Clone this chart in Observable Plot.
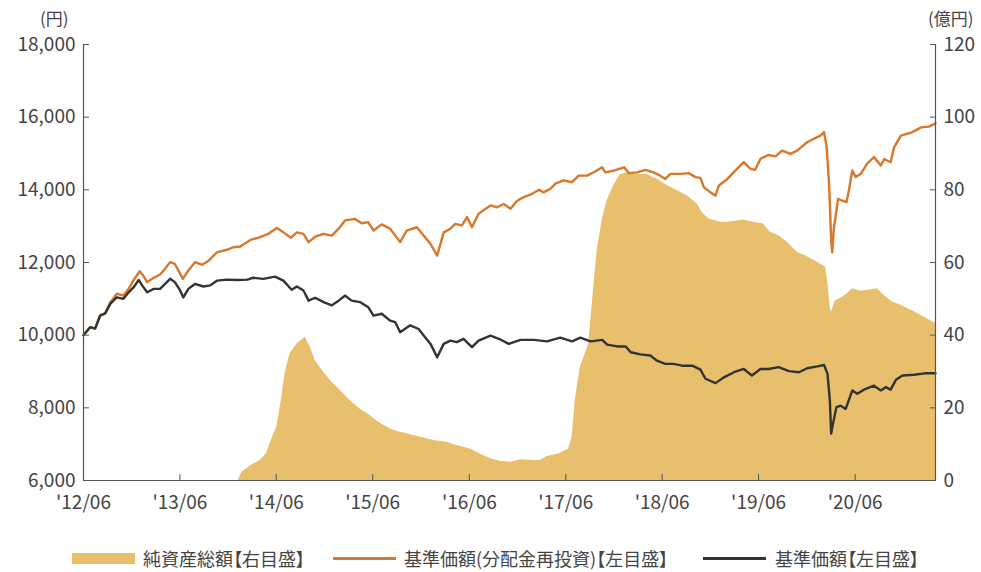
<!DOCTYPE html>
<html>
<head>
<meta charset="utf-8">
<script src="https://cdn.jsdelivr.net/npm/d3@7"></script>
<script src="https://cdn.jsdelivr.net/npm/@observablehq/plot@0.6"></script>
<style>
  body { margin: 0; background: #fff; }
  #wrap { position: relative; width: 981px; height: 572px; font-family: "Noto Sans CJK JP", "Noto Sans", sans-serif; color: #444; font-feature-settings: "palt"; }
  .unit { position: absolute; font-size: 17px; line-height: 20px; top: 8px; }
  .leg { position: absolute; top: 546px; height: 24px; font-size: 18px; line-height: 24px; white-space: nowrap; }
  .sw { position: absolute; }
</style>
</head>
<body>
<div id="wrap"></div>
<script>
// ---- data ----
// 基準価額 (NAV, 円)
const navDates = ["2012-06-01","2012-06-26","2012-07-15","2012-08-03","2012-08-22","2012-09-11","2012-10-05","2012-10-30","2012-11-19","2012-12-08","2012-12-27","2013-01-09","2013-01-28","2013-02-22","2013-03-18","2013-04-06","2013-04-25","2013-05-13","2013-06-02","2013-06-14","2013-07-03","2013-07-28","2013-08-29","2013-09-24","2013-10-19","2013-11-26","2014-01-04","2014-02-11","2014-03-06","2014-04-13","2014-05-27","2014-06-28","2014-07-29","2014-08-18","2014-09-12","2014-10-01","2014-10-26","2014-11-27","2014-12-28","2015-01-23","2015-02-17","2015-03-13","2015-04-14","2015-05-15","2015-06-04","2015-07-05","2015-08-06","2015-08-25","2015-09-13","2015-10-21","2015-11-22","2015-12-11","2016-01-06","2016-01-31","2016-02-25","2016-03-21","2016-04-15","2016-05-10","2016-06-11","2016-07-06","2016-08-20","2016-09-21","2016-10-28","2016-12-12","2017-02-01","2017-03-22","2017-05-11","2017-06-25","2017-07-26","2017-09-03","2017-10-17","2017-11-05","2017-12-13","2018-01-14","2018-02-02","2018-03-10","2018-04-17","2018-05-12","2018-06-13","2018-07-14","2018-08-16","2018-09-23","2018-10-24","2018-11-12","2018-12-20","2019-01-21","2019-02-28","2019-04-06","2019-05-07","2019-06-08","2019-07-09","2019-08-16","2019-09-24","2019-11-01","2019-12-02","2020-01-10","2020-02-04","2020-02-17","2020-02-26","2020-03-02","2020-03-10","2020-03-22","2020-04-07","2020-04-26","2020-05-21","2020-06-09","2020-07-04","2020-08-11","2020-09-06","2020-09-25","2020-10-13","2020-11-02","2020-11-27","2021-01-10","2021-02-18","2021-04-01"];
const navValues = [10000,10220,10180,10540,10600,10870,11040,11000,11180,11320,11520,11370,11180,11275,11275,11410,11550,11460,11230,11040,11275,11410,11340,11370,11500,11530,11520,11530,11580,11550,11610,11500,11250,11340,11230,10950,11030,10910,10820,10950,11090,10950,10910,10770,10540,10590,10400,10360,10080,10270,10170,9990,9760,9390,9760,9850,9810,9900,9670,9850,9990,9900,9760,9870,9870,9830,9930,9830,9930,9830,9870,9740,9690,9690,9530,9470,9440,9300,9210,9210,9160,9160,9050,8800,8680,8840,8980,9070,8890,9070,9070,9120,9010,8980,9090,9140,9180,8940,8200,7290,7600,8020,8060,7970,8480,8390,8500,8610,8480,8570,8500,8770,8890,8910,8950,8950];

// 基準価額(分配金再投資) (円)
const reinvDates = ["2012-06-01","2012-06-26","2012-07-15","2012-08-03","2012-08-22","2012-09-11","2012-10-05","2012-10-30","2012-11-19","2012-12-08","2012-12-31","2013-01-13","2013-01-28","2013-02-22","2013-03-18","2013-04-06","2013-04-25","2013-05-13","2013-05-30","2013-06-12","2013-07-03","2013-07-28","2013-08-23","2013-09-18","2013-10-19","2013-11-26","2013-12-21","2014-01-16","2014-02-23","2014-04-01","2014-05-02","2014-06-03","2014-06-28","2014-07-26","2014-08-18","2014-09-12","2014-10-01","2014-10-26","2014-11-27","2014-12-28","2015-01-23","2015-02-17","2015-03-26","2015-04-20","2015-05-15","2015-06-04","2015-07-05","2015-08-06","2015-09-13","2015-10-08","2015-11-15","2015-12-11","2016-01-06","2016-01-31","2016-02-25","2016-03-21","2016-04-09","2016-05-04","2016-05-23","2016-06-11","2016-07-06","2016-08-20","2016-09-15","2016-10-09","2016-11-04","2016-11-29","2016-12-24","2017-01-25","2017-02-20","2017-03-09","2017-04-04","2017-04-23","2017-05-24","2017-06-25","2017-07-20","2017-08-21","2017-09-22","2017-10-17","2017-10-29","2017-11-30","2018-01-08","2018-01-26","2018-02-27","2018-03-29","2018-04-29","2018-05-25","2018-06-13","2018-07-02","2018-08-09","2018-09-10","2018-10-05","2018-10-24","2018-11-06","2018-12-01","2018-12-20","2019-01-02","2019-02-03","2019-03-05","2019-04-06","2019-05-01","2019-05-19","2019-06-08","2019-07-09","2019-08-04","2019-08-29","2019-09-30","2019-10-25","2019-12-02","2020-01-03","2020-01-22","2020-02-04","2020-02-14","2020-02-23","2020-02-27","2020-03-02","2020-03-06","2020-03-12","2020-03-22","2020-03-28","2020-04-13","2020-04-29","2020-05-08","2020-05-21","2020-06-03","2020-06-22","2020-07-17","2020-08-11","2020-09-06","2020-09-19","2020-10-13","2020-10-26","2020-11-21","2021-01-01","2021-02-06","2021-03-07","2021-04-01"];
const reinvValues = [10000,10220,10180,10540,10600,10910,11140,11090,11275,11520,11760,11640,11460,11580,11670,11830,12010,11960,11730,11550,11780,12010,11940,12050,12280,12350,12420,12440,12620,12700,12790,12950,12830,12680,12830,12790,12560,12710,12790,12740,12930,13160,13200,13080,13110,12880,13050,12930,12560,12880,12970,12740,12510,12190,12830,12930,13060,13020,13250,12970,13340,13570,13520,13610,13480,13700,13800,13890,14000,13930,14030,14170,14260,14210,14390,14390,14510,14620,14480,14530,14620,14460,14480,14550,14480,14390,14300,14440,14440,14460,14350,14330,14070,13930,13840,14120,14300,14530,14760,14580,14550,14850,14960,14920,15080,14990,15080,15310,15430,15490,15590,15170,14170,13430,12600,12280,12930,13430,13750,13700,13660,13980,14530,14350,14440,14730,14900,14670,14850,14760,15170,15490,15580,15720,15740,15830];

// 純資産総額 (億円)
const assetDates = ["2012-06-01","2014-01-08","2014-01-22","2014-02-23","2014-04-01","2014-04-26","2014-05-08","2014-06-03","2014-06-22","2014-07-04","2014-07-23","2014-08-18","2014-09-19","2014-10-08","2014-10-26","2014-11-27","2014-12-28","2015-01-30","2015-03-07","2015-04-14","2015-05-22","2015-06-23","2015-08-06","2015-09-13","2015-11-03","2015-12-11","2016-01-18","2016-03-08","2016-04-15","2016-06-05","2016-07-12","2016-08-20","2016-09-27","2016-11-04","2016-12-12","2017-02-01","2017-02-26","2017-03-22","2017-05-05","2017-06-12","2017-06-25","2017-07-07","2017-07-26","2017-08-27","2017-09-15","2017-09-28","2017-10-17","2017-11-05","2017-11-30","2017-12-25","2018-01-20","2018-02-27","2018-04-05","2018-05-12","2018-06-20","2018-07-27","2018-09-04","2018-10-12","2018-10-30","2018-11-25","2019-01-09","2019-02-03","2019-04-06","2019-05-13","2019-06-20","2019-07-15","2019-08-16","2019-09-18","2019-10-25","2019-12-02","2020-01-10","2020-02-10","2020-02-19","2020-02-27","2020-03-03","2020-03-18","2020-04-13","2020-05-02","2020-05-21","2020-06-22","2020-07-30","2020-08-24","2020-09-19","2020-10-20","2020-11-21","2021-01-01","2021-02-06","2021-03-14","2021-04-01"];
const assetValues = [0,0,2.3,4.0,5.5,7.5,10.1,14.7,22.9,29.4,34.9,37.6,39.4,36.7,33.0,29.8,27.1,24.8,22.0,19.7,17.9,16.0,14.2,13.3,12.4,11.7,11.0,10.5,9.6,8.7,7.3,6.0,5.3,5.0,5.7,5.5,5.5,6.6,7.3,8.7,11.9,22.0,31.2,37.6,53.2,63.3,71.6,77.1,81.2,84.2,84.6,84.2,84.2,83.0,81.2,79.8,78.4,76.1,73.8,72.0,71.1,71.1,71.7,71.1,70.6,68.3,67.4,65.6,62.8,61.6,60.1,58.7,54.1,47.7,46.3,49.5,50.4,51.4,52.8,52.1,52.5,52.8,50.9,49.1,48.2,46.8,45.4,44.0,43.3];

// axes
const xStart = "2012-06-01", xEnd = "2021-04-01";
const xTickDates = ["2012-06-01","2013-06-01","2014-06-01","2015-06-01","2016-06-01","2017-06-01","2018-06-01","2019-06-01","2020-06-01"];
const leftTicks = [6000, 8000, 10000, 12000, 14000, 16000, 18000];
const rightTicks = [0, 20, 40, 60, 80, 100, 120];
const leftUnit = "(円)", rightUnit = "(億円)";
const legendLabels = ["純資産総額【右目盛】", "基準価額(分配金再投資)【左目盛】", "基準価額【左目盛】"];
const colors = { asset: "#E8BF6C", reinv: "#D9772B", nav: "#333333", axis: "#555555" };

// right axis (億円) is mapped onto the left scale: 0 -> 6000, 120 -> 18000
const LEFT_MIN = 6000, RATIO = 100;

const parse = d3.utcParse("%Y-%m-%d");
const navData = navDates.map((d, i) => ({ date: parse(d), value: navValues[i] }));
const reinvData = reinvDates.map((d, i) => ({ date: parse(d), value: reinvValues[i] }));
const assetData = assetDates.map((d, i) => ({ date: parse(d), value: assetValues[i] }));
const xDomain = [parse(xStart), parse(xEnd)];
const font = '"Noto Sans CJK JP", "Noto Sans", sans-serif';

const chart = Plot.plot({
  width: 981,
  height: 520,
  marginLeft: 83,
  marginRight: 46,
  marginTop: 44,
  marginBottom: 40,
  style: { fontFamily: font, fontSize: "19px", color: "#444", background: "white", overflow: "visible" },
  x: { type: "utc", domain: xDomain },
  y: { domain: [LEFT_MIN, 18000] },
  marks: [
    Plot.areaY(assetData, { x: "date", y1: LEFT_MIN, y2: d => LEFT_MIN + d.value * RATIO, fill: colors.asset }),
    Plot.lineY(reinvData, { x: "date", y: "value", stroke: colors.reinv, strokeWidth: 2.4 }),
    Plot.lineY(navData, { x: "date", y: "value", stroke: colors.nav, strokeWidth: 2.4 }),
    Plot.ruleY([LEFT_MIN], { stroke: colors.axis, strokeWidth: 1.2 }),
    Plot.ruleX(xDomain, { stroke: colors.axis, strokeWidth: 1.2 }),
    Plot.axisX({
      ticks: xTickDates.map(parse),
      tickFormat: d => "'" + String(d.getUTCFullYear()).slice(2) + "/" + String(d.getUTCMonth() + 1).padStart(2, "0"),
      tickSize: -6, tickPadding: 21, stroke: colors.axis, label: null
    }),
    Plot.axisY({
      anchor: "left", ticks: leftTicks, tickFormat: d3.format(","),
      tickSize: -6, tickPadding: 14, stroke: colors.axis, label: null
    }),
    Plot.axisY({
      anchor: "right", ticks: rightTicks.map(v => LEFT_MIN + v * RATIO),
      tickFormat: d => String((d - LEFT_MIN) / RATIO),
      tickSize: -6, tickPadding: 14, stroke: colors.axis, label: null
    })
  ]
});

const wrap = document.getElementById("wrap");
wrap.appendChild(chart);
chart.style.position = "absolute";
chart.style.left = "0px";
chart.style.top = "0px";

function addDiv(cls, text, styles) {
  const el = document.createElement("div");
  el.className = cls;
  if (text != null) el.textContent = text;
  Object.assign(el.style, styles);
  wrap.appendChild(el);
  return el;
}
addDiv("unit", leftUnit, { left: "40px" });
addDiv("unit", rightUnit, { left: "928px" });

// legend
addDiv("sw", null, { left: "72px", top: "553px", width: "63px", height: "11px", background: colors.asset });
addDiv("leg", legendLabels[0], { left: "143px" });
addDiv("sw", null, { left: "333px", top: "557px", width: "63px", height: "3px", background: colors.reinv });
addDiv("leg", legendLabels[1], { left: "404px" });
addDiv("sw", null, { left: "703px", top: "557px", width: "63px", height: "3px", background: colors.nav });
addDiv("leg", legendLabels[2], { left: "775px" });
</script>
</body>
</html>
